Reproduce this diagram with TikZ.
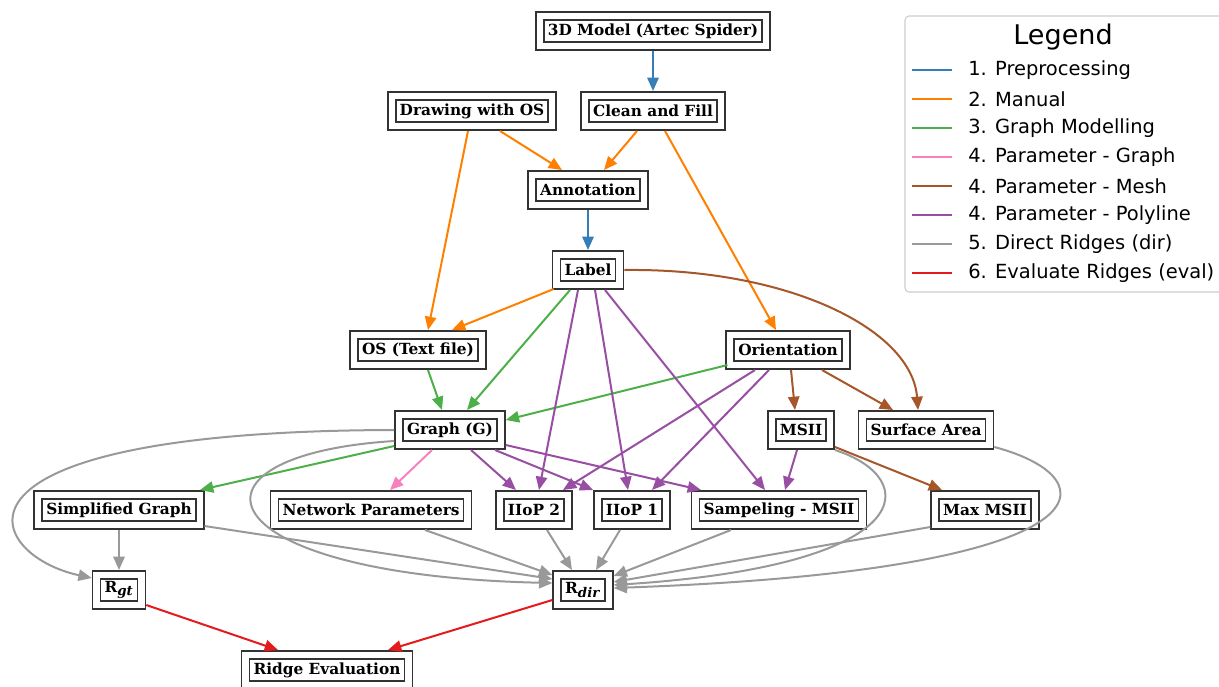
\documentclass[tikz,border=0pt]{standalone}
\usepackage{fontspec}
\setmainfont{DejaVu Serif}
\setsansfont{DejaVu Sans}
\usepackage{tikz}
\usetikzlibrary{
  arrows.meta,
  calc
}
\definecolor{prepro}{HTML}{377EB8}
\definecolor{manual}{HTML}{FF7F00}
\definecolor{graphmod}{HTML}{4DAF4A}
\definecolor{pargraph}{HTML}{F781BF}
\definecolor{parmesh}{HTML}{A65628}
\definecolor{parpoly}{HTML}{984EA3}
\definecolor{direct}{HTML}{999999}
\definecolor{evalr}{HTML}{E41A1C}

\begin{document}
\begin{tikzpicture}[x=0.75pt,y=-0.75pt,
  box/.style={draw=black!80, line width=1.2pt, double=white, double distance=4.8pt,
    inner xsep=6pt, inner ysep=0pt, minimum height=22.8pt, outer sep=3.6pt,
    font=\bfseries\fontsize{11.5}{13}\selectfont},
  edge/.style={line width=1.5pt, -{Triangle[length=10pt,width=8.5pt]}},
  legtext/.style={anchor=west, inner sep=0pt, font=\sffamily\fontsize{14.6}{17}\selectfont}
]
\useasboundingbox (0,0) rectangle (1219,686);

\node[box] (model) at (653,31) {3D Model (Artec Spider)};
\node[box] (drawos) at (472,111) {Drawing with OS};
\node[box] (clean) at (653,111) {Clean and Fill};
\node[box] (annot) at (588,190) {Annotation};
\node[box] (label) at (588,270) {Label};
\node[box] (ostxt) at (418,350) {OS (Text file)};
\node[box] (orient) at (788,350) {Orientation};
\node[box] (graph) at (450,430) {Graph (G)};
\node[box] (msii) at (801,430) {MSII};
\node[box] (surf) at (926,430) {Surface Area};
\node[box] (simpl) at (119,510) {Simplified Graph};
\node[box] (netpar) at (371,510) {Network Parameters};
\node[box] (iiop2) at (534,510) {IIoP 2};
\node[box] (iiop1) at (632,510) {IIoP 1};
\node[box] (sampl) at (779,510) {Sampeling - MSII};
\node[box] (maxmsii) at (985,510) {Max MSII};
\node[box] (rgt) at (119,590) {R\textsubscript{\fontsize{10}{12}\selectfont\textit{gt}}};
\node[box] (rdir) at (583,590) {R\textsubscript{\fontsize{10}{12}\selectfont\textit{dir}}};
\node[box] (ridge) at (327,670) {Ridge Evaluation};

% 1. preprocessing
\draw[edge,prepro] (model) -- (clean);
\draw[edge,prepro] (annot) -- (label);
% 2. manual
\draw[edge,manual] ($(drawos.south)+(28,0)$) -- ($(annot.north)+(-26,0)$);
\draw[edge,manual] ($(clean.south)+(-16,0)$) -- ($(annot.north)+(16,0)$);
\draw[edge,manual] ($(drawos.south)+(-4,0)$) -- ($(ostxt.north)+(10,0)$);
\draw[edge,manual] ($(clean.south)+(12,0)$) -- ($(orient.north)+(-12,0)$);
\draw[edge,manual] ($(label.south west)+(2,-1)$) -- ($(ostxt.north)+(34,0)$);
% 3. graph modelling
\draw[edge,graphmod] ($(ostxt.south)+(10,0)$) -- ($(graph.north)+(-8,0)$);
\draw[edge,graphmod] ($(label.south)+(-18,0)$) -- ($(graph.north)+(17,0)$);
\draw[edge,graphmod] ($(orient.south west)+(2,-5)$) -- ($(graph.east)+(0,-10)$);
\draw[edge,graphmod] ($(graph.south west)+(0,-4)$) -- ($(simpl.north)+(81,0)$);
% 4. parameters
\draw[edge,pargraph] ($(graph.south)+(-18,0)$) -- ($(netpar.north)+(19,0)$);
\draw[edge,parmesh] (label.east) .. controls (790,268) and (912,330) .. ($(surf.north)+(-8,0)$);
\draw[edge,parmesh] ($(orient.south)+(3,0)$) -- ($(msii.north)+(-6,0)$);
\draw[edge,parmesh] ($(orient.south)+(34,0)$) -- ($(surf.north)+(-33,0)$);
\draw[edge,parmesh] ($(msii.south east)+(0,-3)$) -- ($(maxmsii.north)+(-43,0)$);
\draw[edge,parpoly] ($(label.south)+(-10,0)$) -- ($(iiop2.north)+(5,0)$);
\draw[edge,parpoly] ($(label.south)+(7,0)$) -- ($(iiop1.north)+(-4,0)$);
\draw[edge,parpoly] ($(label.south)+(17,0)$) -- ($(sampl.north)+(-14,0)$);
\draw[edge,parpoly] ($(graph.south)+(21,0)$) -- ($(iiop2.north)+(-18,0)$);
\draw[edge,parpoly] ($(graph.south)+(45,0)$) -- (iiop1.north west);
\draw[edge,parpoly] ($(graph.east)+(0,15)$) -- ($(sampl.north)+(-78,0)$);
\draw[edge,parpoly] ($(orient.south)+(-33,0)$) -- ($(iiop2.north)+(29,0)$);
\draw[edge,parpoly] ($(orient.south)+(-19,0)$) -- ($(iiop1.north)+(20,0)$);
\draw[edge,parpoly] ($(msii.south)+(-4,0)$) -- ($(sampl.north)+(6,0)$);
% 5. direct ridges
\draw[edge,direct] (graph.west) .. controls (-80,431) and (-15,555) .. ($(rgt.north west)+(0,8)$);
\draw[edge,direct] ($(graph.south west)+(0,-9)$) .. controls (170,455) and (200,575) .. ($(rdir.west)+(0,-7)$);
\draw[edge,direct] (simpl) -- (rgt);
\draw[edge,direct] ($(simpl.south east)+(0,-4)$) -- ($(rdir.west)+(0,-11)$);
\draw[edge,direct] ($(netpar.south)+(54,0)$) -- ($(rdir.north west)+(0,5)$);
\draw[edge,direct] ($(iiop2.south)+(13,0)$) -- ($(rdir.north)+(-11,0)$);
\draw[edge,direct] ($(iiop1.south)+(-12,0)$) -- ($(rdir.north)+(13,0)$);
\draw[edge,direct] ($(sampl.south)+(-48,0)$) -- ($(rdir.north east)+(0,6)$);
\draw[edge,direct] ($(maxmsii.south west)+(0,-3)$) -- ($(rdir.east)+(0,-8)$);
\draw[edge,direct] (msii.south east) .. controls (922,478) and (922,565) .. ($(rdir.east)+(0,-5)$);
\draw[edge,direct] ($(surf.south east)+(0,-3)$) .. controls (1112,478) and (1118,570) .. ($(rdir.east)+(0,-2)$);
% 6. evaluate ridges
\draw[edge,evalr] ($(rgt.south east)+(0,-5)$) -- ($(ridge.north)+(-49,0)$);
\draw[edge,evalr] ($(rdir.south west)+(0,-10)$) -- ($(ridge.north)+(61,0)$);

% legend
\draw[draw=black!20, line width=0.8pt, rounded corners=3pt] (905,16) rectangle (1240,292);
\node[font=\sffamily\fontsize{20.3}{24}\selectfont] (legtitle) at (1063,37) {Legend};
\foreach \c/\t [count=\i] in {prepro/1. Preprocessing, manual/2. Manual,
  graphmod/3. Graph Modelling, pargraph/4. Parameter - Graph, parmesh/4. Parameter - Mesh,
  parpoly/4. Parameter - Polyline, direct/5. Direct Ridges (dir), evalr/6. Evaluate Ridges (eval)} {
  \draw[\c, line width=1.5pt] (912,41+29*\i) -- (952,41+29*\i);
  \node[legtext] (leg\i) at (968,41+29*\i) {\t};
}
\end{tikzpicture}
\end{document}
